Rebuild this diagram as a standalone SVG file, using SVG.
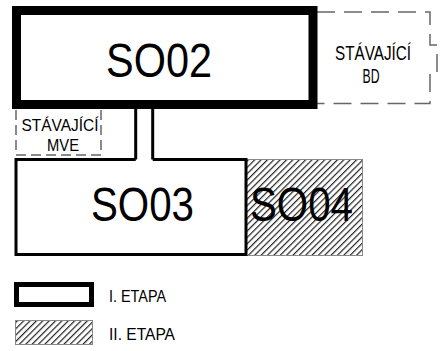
<svg xmlns="http://www.w3.org/2000/svg" width="446" height="351" viewBox="0 0 446 351">
<style>
text{font-family:"Liberation Sans",Arial,sans-serif;fill:#000}
.big{font-size:49px}
.sm{font-size:20px}
.xs{font-size:17px}
.lg{font-size:16px}
.dash{fill:none;stroke:#666;stroke-width:1.5}
.hatch{fill:url(#h);stroke:#888;stroke-width:1}
</style>
<defs>
<pattern id="h" patternUnits="userSpaceOnUse" width="4.5" height="4.5" patternTransform="rotate(45)">
<rect width="4.5" height="4.5" fill="#fff"/>
<line x1="0.6" y1="0" x2="0.6" y2="4.5" stroke="#222" stroke-width="1.2"/>
</pattern>
</defs>
<g id="bd">
<path class="dash" stroke-dasharray="18 9" d="M317 12 H430 V45 H437 V72 H430 V103.5 H317"/>
<text class="sm" x="373" y="60" text-anchor="middle" textLength="76" lengthAdjust="spacingAndGlyphs">STÁVAJÍCÍ</text>
<text class="sm" x="371" y="83" text-anchor="middle" textLength="17" lengthAdjust="spacingAndGlyphs">BD</text>
</g>
<g id="mve">
<path class="dash" stroke-dasharray="10 5" d="M16 110 V155 H101 V110"/>
<text class="xs" x="60" y="131" text-anchor="middle" textLength="77" lengthAdjust="spacingAndGlyphs">STÁVAJÍCÍ</text>
<text class="xs" x="63" y="151" text-anchor="middle" textLength="32" lengthAdjust="spacingAndGlyphs">MVE</text>
</g>
<g id="so04">
<rect class="hatch" x="246" y="159.5" width="116.5" height="96"/>
<text class="big" x="301.5" y="221" text-anchor="middle" textLength="103" lengthAdjust="spacingAndGlyphs">SO04</text>
</g>
<g id="connectors">
<path d="M135.7 104 V159.5 M152.7 104 V159.5" fill="none" stroke="#000" stroke-width="3"/>
</g>
<g id="so03">
<path d="M135.7 159.5 H16 V254.5 H246 V159.5 H152.7" fill="none" stroke="#000" stroke-width="3"/>
<text class="big" x="142.5" y="221" text-anchor="middle" textLength="103" lengthAdjust="spacingAndGlyphs">SO03</text>
</g>
<g id="so02">
<rect x="16.5" y="10.5" width="296.5" height="94" fill="#fff" stroke="#000" stroke-width="9"/>
<text class="big" x="159" y="77" text-anchor="middle" textLength="106" lengthAdjust="spacingAndGlyphs">SO02</text>
</g>
<g id="legend">
<rect x="16.5" y="284.5" width="75" height="20" fill="#fff" stroke="#000" stroke-width="5"/>
<text class="lg" x="109" y="302" textLength="57" lengthAdjust="spacingAndGlyphs">I. ETAPA</text>
<rect class="hatch" x="15.5" y="320.5" width="77" height="24"/>
<text class="lg" x="109" y="340" textLength="66" lengthAdjust="spacingAndGlyphs">II. ETAPA</text>
</g>
</svg>
